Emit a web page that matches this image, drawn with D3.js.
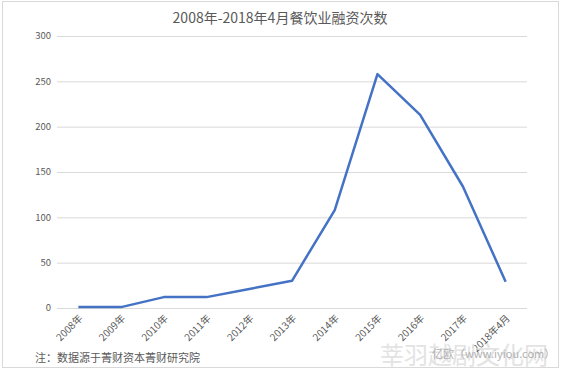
<!DOCTYPE html>
<html>
<head>
<meta charset="utf-8">
<script src="https://cdn.jsdelivr.net/npm/d3@7"></script>
<style>
  body { margin: 0; background: #fff; }
  text { font-family: "Noto Sans CJK SC", "Noto Sans", sans-serif; }
</style>
</head>
<body>
<script>
const years = ["2008年", "2009年", "2010年", "2011年", "2012年", "2013年", "2014年", "2015年", "2016年", "2017年", "2018年4月"];
const counts = [1, 1, 12, 12, 21, 30, 108, 258, 213, 134, 29];
const yTicks = [0, 50, 100, 150, 200, 250, 300];

const width = 563;
const height = 370;

const svg = d3.select("body").append("svg")
    .attr("width", width)
    .attr("height", height);

// outer frame
svg.append("rect")
    .attr("x", 2.5).attr("y", 1.5)
    .attr("width", 556).attr("height", 366)
    .attr("fill", "#fff")
    .attr("stroke", "#d9d9d9");

const xScale = d3.scalePoint()
    .domain(years)
    .range([57, 527])
    .padding(0.5);

const yScale = d3.scaleLinear()
    .domain([0, 300])
    .range([308, 36]);

// gridlines
svg.append("g")
    .selectAll("line")
    .data(yTicks)
    .enter().append("line")
    .attr("x1", 57).attr("x2", 527)
    .attr("y1", d => yScale(d) + 0.5)
    .attr("y2", d => yScale(d) + 0.5)
    .attr("stroke", "#d9d9d9")
    .attr("stroke-width", 1);

// y labels
svg.append("g")
    .selectAll("text")
    .data(yTicks)
    .enter().append("text")
    .attr("x", 51)
    .attr("y", d => yScale(d))
    .attr("dy", "0.35em")
    .attr("text-anchor", "end")
    .attr("font-size", 9.5)
    .attr("fill", "#595959")
    .text(d => d);

// x labels, rotated
svg.append("g")
    .selectAll("text")
    .data(years)
    .enter().append("text")
    .attr("transform", d => `translate(${xScale(d) + 5},${319}) rotate(-45)`)
    .attr("text-anchor", "end")
    .attr("font-size", 10)
    .attr("fill", "#595959")
    .text(d => d);

const line = d3.line()
    .x((d, i) => xScale(years[i]))
    .y(d => yScale(d));

svg.append("path")
    .datum(counts)
    .attr("d", line)
    .attr("fill", "none")
    .attr("stroke", "#4472C4")
    .attr("stroke-width", 2.5)
    .attr("stroke-linejoin", "round");

// title
svg.append("text")
    .attr("x", 280)
    .attr("y", 23)
    .attr("text-anchor", "middle")
    .attr("font-size", 14)
    .attr("fill", "#595959")
    .text("2008年-2018年4月餐饮业融资次数");

// footnote
svg.append("text")
    .attr("x", 35)
    .attr("y", 362)
    .attr("font-size", 11)
    .attr("fill", "#595959")
    .text("注：数据源于菁财资本菁财研究院");

// watermark
svg.append("text")
    .attr("x", 380)
    .attr("y", 364)
    .attr("font-size", 24)
    .attr("fill", "#e3e3e3")
    .text("莘羽越剧文化网");

svg.append("text")
    .attr("x", 432)
    .attr("y", 358)
    .attr("font-size", 11)
    .attr("fill", "#b0b0b0")
    .text("亿欧（www.iyiou.com）");
</script>
</body>
</html>
